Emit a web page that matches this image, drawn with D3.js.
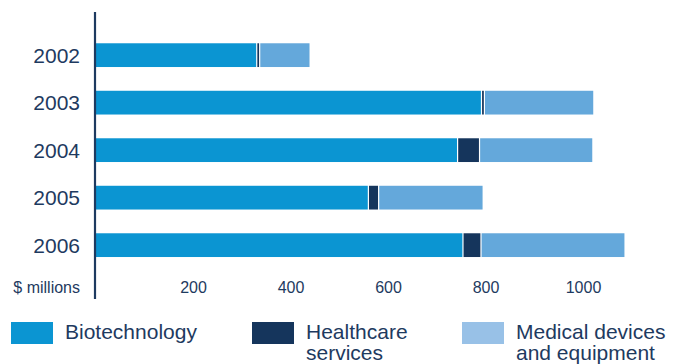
<!DOCTYPE html>
<html>
<head>
<meta charset="utf-8">
<script src="https://cdn.jsdelivr.net/npm/d3@7"></script>
<style>
  html, body { margin: 0; padding: 0; background: #fff; }
  svg { display: block; font-family: "Liberation Sans", Arial, Helvetica, sans-serif; }
</style>
</head>
<body>
<svg id="chart" width="684" height="364"></svg>
<script>
// Investment by sector, $ millions
const years = ["2002", "2003", "2004", "2005", "2006"];
const biotechnology = [332, 793, 744, 561, 755];
const healthcareServices = [6, 6, 45, 21, 37];
const medicalDevices = [101, 222, 230, 212, 293];
const tickValues = [200, 400, 600, 800, 1000];
const seriesNames = ["Biotechnology", "Healthcare services", "Medical devices and equipment"];

const ink = "#1e3a60";
const barColors = ["#0b95d2", "#15355c", "#64a8db"];
const swatchColors = ["#0b95d2", "#15355c", "#98c1e7"];

const svg = d3.select("#chart");

const x = d3.scaleLinear().domain([0, 1000]).range([95.5, 583]);
const y = d3.scaleBand().domain(years).range([31.4, 268.9]).paddingInner(0.5).paddingOuter(0.25);

const rows = years.map((yr, i) => ({
  year: yr,
  [seriesNames[0]]: biotechnology[i],
  [seriesNames[1]]: healthcareServices[i],
  [seriesNames[2]]: medicalDevices[i]
}));
const stacked = d3.stack().keys(seriesNames)(rows);

// stacked bars, each segment separated from the next by a thin white gap
const gap = 1.2;
svg.append("g")
  .selectAll("g")
  .data(stacked)
  .join("g")
    .attr("fill", (d, i) => barColors[i])
  .each(function (series, si) {
    const last = si === stacked.length - 1;
    d3.select(this).selectAll("rect")
      .data(series)
      .join("rect")
        .attr("x", d => x(d[0]))
        .attr("y", d => y(d.data.year))
        .attr("width", d => Math.max(0.8, x(d[1]) - x(d[0]) - (last ? 0 : gap)))
        .attr("height", y.bandwidth());
  });

// vertical axis line
svg.append("line")
  .attr("x1", 95).attr("x2", 95)
  .attr("y1", 12).attr("y2", 299)
  .attr("stroke", ink)
  .attr("stroke-width", 2.2);

// year labels
svg.append("g")
  .selectAll("text")
  .data(years)
  .join("text")
    .attr("x", 80)
    .attr("y", d => y(d) + y.bandwidth() / 2)
    .attr("dy", "0.36em")
    .attr("text-anchor", "end")
    .attr("fill", ink)
    .attr("font-size", 21)
    .text(d => d);

// value axis
const xAxis = d3.axisBottom(x).tickValues(tickValues).tickFormat(d3.format("d")).tickSize(0).tickPadding(0);
const gx = svg.append("g").attr("transform", "translate(0,281.6)").call(xAxis);
gx.select(".domain").remove();
gx.selectAll("text")
  .attr("fill", ink)
  .attr("font-size", 16)
  .attr("font-family", "\"Liberation Sans\", Arial, sans-serif");

svg.append("text")
  .attr("x", 80).attr("y", 293)
  .attr("text-anchor", "end")
  .attr("fill", ink)
  .attr("font-size", 16)
  .text("$ millions");

// legend
const legendItems = [
  { x: 11, lines: ["Biotechnology"] },
  { x: 252, lines: ["Healthcare", "services"] },
  { x: 462, lines: ["Medical devices", "and equipment"] }
];
const lg = svg.append("g")
  .selectAll("g")
  .data(legendItems)
  .join("g")
    .attr("transform", d => `translate(${d.x},322)`);
lg.append("rect")
  .attr("width", 42).attr("height", 22)
  .attr("fill", (d, i) => swatchColors[i]);
lg.append("text")
  .attr("x", 54)
  .attr("fill", ink)
  .attr("font-size", 21)
  .selectAll("tspan")
  .data(d => d.lines)
  .join("tspan")
    .attr("x", 54)
    .attr("y", (d, i) => 16.5 + i * 21)
    .text(d => d);
</script>
</body>
</html>
